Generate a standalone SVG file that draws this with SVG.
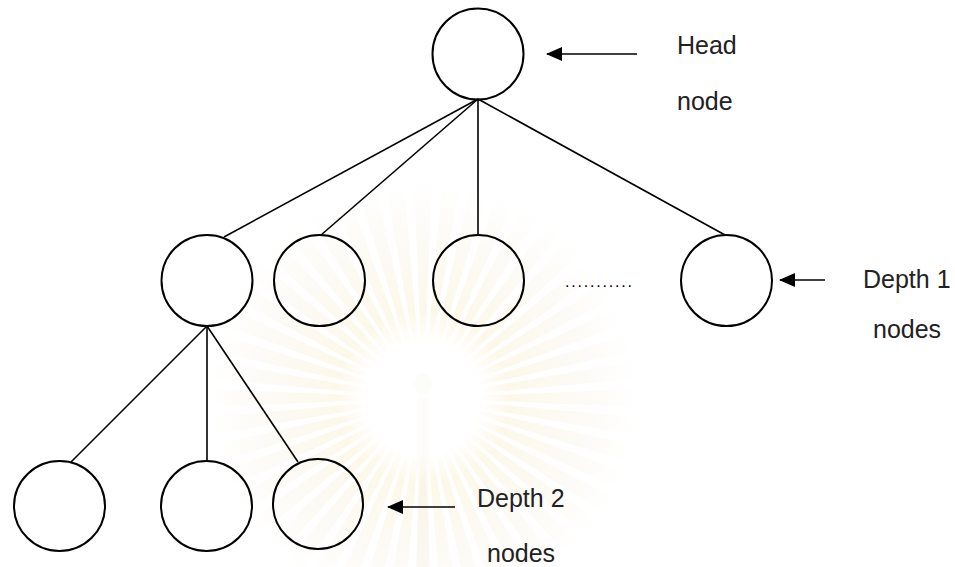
<svg xmlns="http://www.w3.org/2000/svg" xmlns:xlink="http://www.w3.org/1999/xlink" width="955" height="567" viewBox="0 0 955 567">
  <style>
    .node { fill: none; stroke: #000; stroke-width: 2; }
    .edge { fill: none; stroke: #000; stroke-width: 1.6; }
    .pointer { fill: none; stroke: #000; stroke-width: 1.6; marker-end: url(#head); }
    .label { font-family: "Liberation Sans", Arial, sans-serif; font-size: 25px; fill: #222; }
    .dots { font-family: "Liberation Sans", Arial, sans-serif; font-size: 16px; fill: #000; letter-spacing: 1.8px; }
  </style>
  <defs>
    <marker id="head" viewBox="0 0 16 14" refX="15" refY="7" markerWidth="16" markerHeight="14" markerUnits="userSpaceOnUse" orient="auto">
      <path d="M0,0 L16,7 L0,14 Z" fill="#000"/>
    </marker>
    <radialGradient id="glow" gradientUnits="userSpaceOnUse" cx="0" cy="0" r="215">
      <stop offset="0" stop-color="#f6e7b4" stop-opacity="0"/>
      <stop offset="0.26" stop-color="#f6e7b4" stop-opacity="0"/>
      <stop offset="0.4" stop-color="#f6e7b4" stop-opacity="0.3"/>
      <stop offset="0.75" stop-color="#f0e6cc" stop-opacity="0.18"/>
      <stop offset="1" stop-color="#f0e6cc" stop-opacity="0"/>
    </radialGradient>
    <path id="ray" d="M0,0 L215,-9 L215,9 Z"/>
  </defs>

  <rect width="955" height="567" fill="#fff"/>

  <!-- faint seal in the background -->
  <g id="seal" transform="translate(423,398)" fill="url(#glow)">
    <use xlink:href="#ray" transform="rotate(0)"/>
    <use xlink:href="#ray" transform="rotate(7.5)"/>
    <use xlink:href="#ray" transform="rotate(15)"/>
    <use xlink:href="#ray" transform="rotate(22.5)"/>
    <use xlink:href="#ray" transform="rotate(30)"/>
    <use xlink:href="#ray" transform="rotate(37.5)"/>
    <use xlink:href="#ray" transform="rotate(45)"/>
    <use xlink:href="#ray" transform="rotate(52.5)"/>
    <use xlink:href="#ray" transform="rotate(60)"/>
    <use xlink:href="#ray" transform="rotate(67.5)"/>
    <use xlink:href="#ray" transform="rotate(75)"/>
    <use xlink:href="#ray" transform="rotate(82.5)"/>
    <use xlink:href="#ray" transform="rotate(90)"/>
    <use xlink:href="#ray" transform="rotate(97.5)"/>
    <use xlink:href="#ray" transform="rotate(105)"/>
    <use xlink:href="#ray" transform="rotate(112.5)"/>
    <use xlink:href="#ray" transform="rotate(120)"/>
    <use xlink:href="#ray" transform="rotate(127.5)"/>
    <use xlink:href="#ray" transform="rotate(135)"/>
    <use xlink:href="#ray" transform="rotate(142.5)"/>
    <use xlink:href="#ray" transform="rotate(150)"/>
    <use xlink:href="#ray" transform="rotate(157.5)"/>
    <use xlink:href="#ray" transform="rotate(165)"/>
    <use xlink:href="#ray" transform="rotate(172.5)"/>
    <use xlink:href="#ray" transform="rotate(180)"/>
    <use xlink:href="#ray" transform="rotate(187.5)"/>
    <use xlink:href="#ray" transform="rotate(195)"/>
    <use xlink:href="#ray" transform="rotate(202.5)"/>
    <use xlink:href="#ray" transform="rotate(210)"/>
    <use xlink:href="#ray" transform="rotate(217.5)"/>
    <use xlink:href="#ray" transform="rotate(225)"/>
    <use xlink:href="#ray" transform="rotate(232.5)"/>
    <use xlink:href="#ray" transform="rotate(240)"/>
    <use xlink:href="#ray" transform="rotate(247.5)"/>
    <use xlink:href="#ray" transform="rotate(255)"/>
    <use xlink:href="#ray" transform="rotate(262.5)"/>
    <use xlink:href="#ray" transform="rotate(270)"/>
    <use xlink:href="#ray" transform="rotate(277.5)"/>
    <use xlink:href="#ray" transform="rotate(285)"/>
    <use xlink:href="#ray" transform="rotate(292.5)"/>
    <use xlink:href="#ray" transform="rotate(300)"/>
    <use xlink:href="#ray" transform="rotate(307.5)"/>
    <use xlink:href="#ray" transform="rotate(315)"/>
    <use xlink:href="#ray" transform="rotate(322.5)"/>
    <use xlink:href="#ray" transform="rotate(330)"/>
    <use xlink:href="#ray" transform="rotate(337.5)"/>
    <use xlink:href="#ray" transform="rotate(345)"/>
    <use xlink:href="#ray" transform="rotate(352.5)"/>
    <ellipse cx="0" cy="-14" rx="9" ry="11" fill="#eee8d8" opacity="0.15"/>
    <rect x="-6" y="0" width="12" height="180" fill="#eee8d8" opacity="0.12"/>
  </g>

  <!-- connectors -->
  <g id="connectors">
    <line class="edge" x1="478" y1="99" x2="224" y2="237"/>
    <line class="edge" x1="478" y1="99" x2="321" y2="235"/>
    <line class="edge" x1="478" y1="99" x2="478" y2="235"/>
    <line class="edge" x1="478" y1="99" x2="725" y2="235"/>
    <line class="edge" x1="207" y1="326" x2="71" y2="462"/>
    <line class="edge" x1="207" y1="326" x2="207" y2="461"/>
    <line class="edge" x1="207" y1="326" x2="298" y2="462"/>
    <line class="pointer" x1="637" y1="54" x2="547" y2="54"/>
    <line class="pointer" x1="825" y1="280" x2="780" y2="280"/>
    <line class="pointer" x1="455" y1="507" x2="388" y2="507"/>
  </g>

  <!-- head -->
  <g id="head-node">
    <circle class="node" cx="478" cy="54" r="45.5"/>
  </g>

  <!-- depth 1 -->
  <g id="d1-a"><circle class="node" cx="207" cy="280.5" r="45.5"/></g>
  <g id="d1-b"><circle class="node" cx="319.5" cy="280.5" r="45.5"/></g>
  <g id="d1-c"><circle class="node" cx="478.5" cy="280.5" r="45.5"/></g>
  <g id="d1-last"><circle class="node" cx="726.5" cy="280.5" r="45.5"/></g>
  <text class="dots" x="565" y="287">...........</text>

  <!-- depth 2 -->
  <g id="d2-a"><ellipse class="node" cx="59.5" cy="506" rx="45.5" ry="45"/></g>
  <g id="d2-b"><ellipse class="node" cx="206.5" cy="506" rx="45.5" ry="45"/></g>
  <g id="d2-c"><ellipse class="node" cx="318" cy="504" rx="45" ry="45"/></g>

  <!-- labels -->
  <g id="labels">
    <text class="label" x="677" y="54">Head</text>
    <text class="label" x="677" y="110">node</text>
    <text class="label" x="863" y="288">Depth 1</text>
    <text class="label" x="873" y="338">nodes</text>
    <text class="label" x="477" y="507">Depth 2</text>
    <text class="label" x="487" y="562">nodes</text>
  </g>
</svg>
